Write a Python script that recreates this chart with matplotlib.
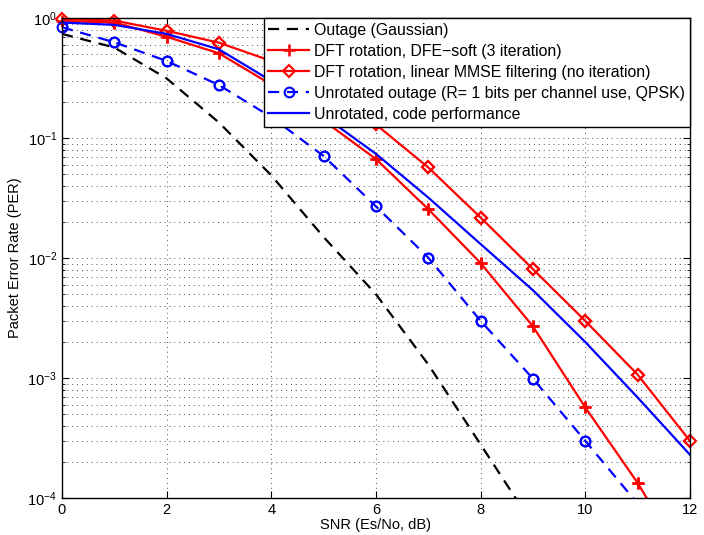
import matplotlib
matplotlib.use("Agg")
import matplotlib.pyplot as plt
from matplotlib.ticker import LogLocator, NullFormatter

plt.rcParams['font.family'] = ['Liberation Sans', 'DejaVu Sans']
plt.rcParams['mathtext.default'] = 'regular'

# SNR axis (Es/No, dB)
snr = [0, 1, 2, 3, 4, 5, 6, 7, 8, 9, 10, 11, 12]

outage_gauss = [0.74, 0.57, 0.315, 0.135, 0.049, 0.015, 0.005, 0.0013, 0.00028, 0.00006]
dft_dfe = [0.95, 0.92, 0.70, 0.51, 0.28, 0.14, 0.067, 0.0256, 0.0091, 0.0027,
           0.00057, 0.000134, 0.000025]
dft_mmse = [0.985, 0.955, 0.785, 0.625, 0.44, 0.25, 0.13, 0.057, 0.0218, 0.0081,
            0.003, 0.00107, 0.0003]
unrot_outage = [0.84, 0.63, 0.44, 0.277, 0.15, 0.071, 0.027, 0.0101, 0.003, 0.00099,
                0.0003, 0.00009]
unrot_code = [0.92, 0.88, 0.74, 0.55, 0.30, 0.153, 0.074, 0.032, 0.0131, 0.0054,
              0.002, 0.00069, 0.00023]

labels = [
    "Outage (Gaussian)",
    "DFT rotation, DFE\u2212soft (3 iteration)",
    "DFT rotation, linear MMSE filtering (no iteration)",
    "Unrotated outage (R= 1 bits per channel use, QPSK)",
    "Unrotated, code performance",
]

ymin, ymax = 1e-4, 1

fig = plt.figure(figsize=(7.04, 5.35), dpi=100)
ax = fig.add_axes([0.088, 0.069, 0.892, 0.897])

lw = 1.6
dash = (0, (5, 3.5))


def marked(x, y, **kw):
    # line clipped to the axes, markers left unclipped like MATLAB does
    ax.semilogy(x, y, **kw)
    inside = [i for i, v in enumerate(y) if ymin <= v <= ymax]
    mk = {k: v for k, v in kw.items() if k in ('color', 'marker', 'ms', 'mew', 'mfc')}
    ax.semilogy(x, y, ls='none', markevery=inside, clip_on=False, **mk)


ax.semilogy(snr[:len(outage_gauss)], outage_gauss, color='black', ls=dash,
            lw=lw, label=labels[0])
marked(snr, dft_dfe, color='red', lw=lw, marker='+', ms=8, mew=1.8,
       label=labels[1])
marked(snr, dft_mmse, color='red', lw=lw, marker='D', ms=6.5, mew=1.5,
       mfc='none', label=labels[2])
marked(snr[:len(unrot_outage)], unrot_outage, color='blue', ls=dash,
       lw=lw, marker='o', ms=7, mew=1.5, mfc='none', label=labels[3])
ax.semilogy(snr, unrot_code, color='blue', lw=lw, label=labels[4])

ax.set_xlim(0, 12)
ax.set_ylim(ymin, ymax)
ax.set_xticks(range(0, 13, 2))
ax.yaxis.set_major_locator(LogLocator(base=10, numticks=10))
ax.yaxis.set_minor_locator(LogLocator(base=10, subs=range(2, 10), numticks=10))
ax.yaxis.set_minor_formatter(NullFormatter())

grid_style = dict(ls=(0, (1, 4)), color='0.3', lw=0.7)
ax.grid(which='major', **grid_style)
ax.grid(which='minor', axis='y', **grid_style)
ax.tick_params(which='both', direction='in', top=True, right=True, labelsize=10.5)
ax.tick_params(which='major', length=5)
ax.tick_params(which='minor', length=2.5)
for s in ax.spines.values():
    s.set_linewidth(1.0)

ax.set_xlabel("SNR (Es/No, dB)", fontsize=10.5, labelpad=1)
ax.set_ylabel("Packet Error Rate (PER)", fontsize=10.5, labelpad=4)

leg = ax.legend(loc='upper right', fontsize=11.4, borderaxespad=0, fancybox=False,
                framealpha=1, edgecolor='black', handlelength=2.6,
                labelspacing=0.38, borderpad=0.3, handletextpad=0.3)
leg.get_frame().set_linewidth(1.0)
leg.set_zorder(5)

plt.savefig("out.png", dpi=100)
